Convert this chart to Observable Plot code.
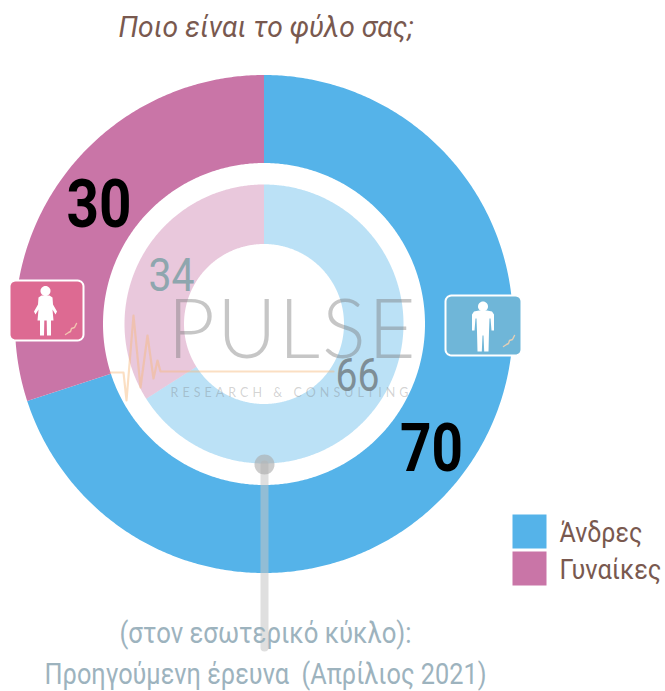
<!DOCTYPE html>
<html><head><meta charset="utf-8">
<style>html,body{margin:0;padding:0;background:#fff}svg{display:block}</style>
<script src="https://cdn.jsdelivr.net/npm/d3@7"></script>
<script src="https://cdn.jsdelivr.net/npm/@observablehq/plot@0.6"></script>
</head><body><script>
const categories = ["Άνδρες", "Γυναίκες"];
const current = [70, 30];
const previous = [66, 34];
const palette = ["#55b3e9", "#c975a7"];
const titleText = "Ποιο είναι το φύλο σας;";
const noteLines = ["(στον εσωτερικό κύκλο):", "Προηγούμενη έρευνα  (Απρίλιος 2021)"];

const CX = 263.5, CY = 323.5;
const brown = "#79594f", note = "#9db3be";

const feature = (type, coordinates, properties = {}) => ({type: "Feature", properties, geometry: {type, coordinates}});
const ringPoint = (r, deg) => [CX + r * Math.sin(deg * Math.PI / 180), CY - r * Math.cos(deg * Math.PI / 180)];
function slices(values, r0, r1) {
  const total = d3.sum(values);
  let start = 0;
  return values.map((v, i) => {
    const end = start + 360 * v / total, pts = [];
    for (let a = start; a < end; a += 0.5) pts.push(ringPoint(r1, a));
    pts.push(ringPoint(r1, end));
    for (let a = end; a > start; a -= 0.5) pts.push(ringPoint(r0, a));
    pts.push(ringPoint(r0, start));
    pts.push(pts[0]);
    const f = feature("Polygon", [pts], {category: categories[i]});
    start = end;
    return f;
  });
}
function roundRect(x0, y0, x1, y1, r) {
  const pts = [];
  [[x1 - r, y0 + r, -90], [x1 - r, y1 - r, 0], [x0 + r, y1 - r, 90], [x0 + r, y0 + r, 180]].forEach(([cx, cy, s]) => {
    for (let a = 0; a <= 90; a += 15) pts.push([cx + r * Math.cos((s + a) * Math.PI / 180), cy + r * Math.sin((s + a) * Math.PI / 180)]);
  });
  pts.push(pts[0]);
  return feature("Polygon", [pts]);
}
function circle(cx, cy, r) {
  const pts = d3.range(0, 361, 10).map(a => [cx + r * Math.cos(a * Math.PI / 180), cy + r * Math.sin(a * Math.PI / 180)]);
  return feature("Polygon", [pts]);
}
const shift = (pts, dx, dy) => pts.map(([x, y]) => [x + dx, y + dy]);
const maleBody = [[-4,-1],[4,-1],[9,0],[11,3],[11,19],[8.5,19],[7.5,7],[6.5,7],[6,20],[5.5,40],[1.2,40],[0.5,24],[-0.5,24],[-1.2,40],[-5.5,40],[-6,20],[-6.5,7],[-7.5,7],[-8.5,19],[-11,19],[-11,3],[-9,0],[-4,-1]];
const femaleBody = [[-4,0],[4,0],[7,2],[7.5,9],[11.5,16],[10,19],[7,14],[8,25],[5.5,25],[5.5,40],[1.5,40],[1.2,25],[-1.2,25],[-1.5,40],[-5.5,40],[-5.5,25],[-8,25],[-7,14],[-10,19],[-11.5,16],[-7.5,9],[-7,2],[-4,0]];
const doodle = (x, y) => shift([[0,11],[3,9],[5,8],[6,5],[9,4],[11,0]], x, y);
const ecg = [[110,372],[123,372],[126,400],[133,315],[140,387],[147,335],[153,378],[157,360],[160,371],[333,371]];

function label(text, x, y, size, fill, len, extra = {}) {
  const {anchor = "middle", adjust = "spacingAndGlyphs", ...rest} = extra;
  return Plot.text([text], {
    text: d => d, x: () => x, y: () => y, fontSize: size, fill, textAnchor: anchor, lineAnchor: "bottom",
    fontFamily: "Roboto", ...rest,
    render(i, s, v, d, c, next) {
      const g = next(i, s, v, d, c);
      d3.select(g).selectAll("text").attr("textLength", len).attr("lengthAdjust", adjust).style("paint-order", "normal").attr("stroke", "none");
      return g;
    }
  });
}

const chart = Plot.plot({
  width: 665, height: 691, margin: 0,
  projection: d3.geoIdentity(),
  style: {fontFamily: "Roboto", background: "#fff"},
  color: {domain: categories, range: palette},
  marks: [
    Plot.geo(slices(current, 161, 249), {fill: d => d.properties.category}),
    Plot.geo(slices(previous, 80, 139.5), {fill: d => d.properties.category, fillOpacity: 0.4}),

    Plot.geo([roundRect(445, 295, 521, 355, 6)], {fill: "#6fb6d8", stroke: "#fff", strokeWidth: 2}),
    Plot.geo([circle(482.5, 306, 5), feature("Polygon", [shift(maleBody, 482.5, 311)])], {fill: "#fff"}),
    Plot.geo([feature("LineString", doodle(503, 335))], {stroke: "#e2cfb6", strokeWidth: 1.4}),

    Plot.geo([roundRect(9, 280, 83, 340, 6)], {fill: "#dd6a92", stroke: "#fff", strokeWidth: 2}),
    Plot.geo([circle(45, 290.5, 5), feature("Polygon", [shift(femaleBody, 45, 295)])], {fill: "#fff"}),
    Plot.geo([feature("LineString", doodle(65, 323))], {stroke: "#f2c4b0", strokeWidth: 1.4}),

    Plot.geo([feature("LineString", [[264, 464], [264, 647]])], {stroke: "#c4c4c4", strokeOpacity: 0.55, strokeWidth: 8}),
    Plot.geo([circle(264, 464, 10)], {fill: "#aaaaaa", fillOpacity: 0.6}),

    Plot.geo([feature("LineString", ecg)], {stroke: "#f7b77a", strokeOpacity: 0.45, strokeWidth: 2.2}),
    label("PULSE", 291, 357, 82, "#777777", 248, {fontFamily: "Lato", fontWeight: 300, fillOpacity: 0.42, adjust: "spacing"}),
    label("RESEARCH & CONSULTING", 289, 396, 12.5, "#777777", 238, {fontFamily: "Lato", fillOpacity: 0.33, adjust: "spacing"}),

    label(String(current[1]), 98.5, 226, 67, "#000", 65, {fontWeight: 700}),
    label(String(current[0]), 431, 470, 67, "#000", 63, {fontWeight: 700}),
    label(String(previous[1]), 171, 290, 46, "#8ea6ae", 46),
    label(String(previous[0]), 357, 390, 46, "#7e8e96", 44),

    label(titleText, 265.5, 36, 30, brown, 295, {fontStyle: "italic"}),
    label(noteLines[0], 265, 642, 30, note, 292),
    label(noteLines[1], 265, 683, 30, note, 442),

    Plot.geo([feature("Polygon", [[[512,514],[546,514],[546,548],[512,548],[512,514]]], {category: categories[0]}),
              feature("Polygon", [[[512,551],[546,551],[546,585],[512,585],[512,551]]], {category: categories[1]})],
             {fill: d => d.properties.category}),
    label(categories[0], 559, 541, 27, brown, 83, {anchor: "start"}),
    label(categories[1], 559, 578, 27, brown, 102, {anchor: "start"})
  ]
});
document.body.appendChild(chart);
</script></body></html>
